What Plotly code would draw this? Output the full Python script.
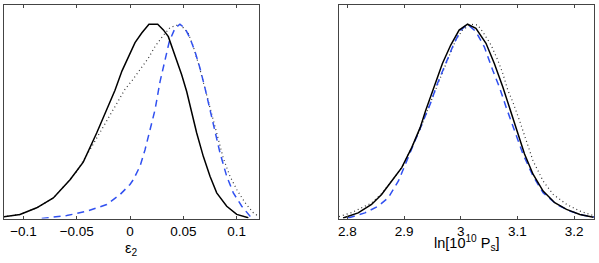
import plotly.graph_objects as go

# ---------------- Left panel: epsilon_2 ----------------
eps_solid_x = [-0.119, -0.1033, -0.0876, -0.0720, -0.0563, -0.0439, -0.0313, -0.0235, -0.0141,
               -0.0075, 0.0, 0.0047, 0.0110, 0.0178, 0.0260, 0.0313, 0.0360, 0.0423, 0.0485,
               0.0532, 0.0579, 0.0626, 0.0688, 0.0751, 0.0814, 0.0908, 0.1002, 0.1111]
eps_solid_y = [0.009, 0.021, 0.055, 0.106, 0.20, 0.29, 0.44, 0.54, 0.66,
               0.76, 0.855, 0.905, 0.955, 1.0, 1.0, 0.971, 0.936, 0.842, 0.74,
               0.654, 0.551, 0.44, 0.32, 0.217, 0.132, 0.063, 0.021, 0.004]

eps_dot_x = [-0.119, -0.1033, -0.0876, -0.072, -0.0563, -0.05, -0.0376, -0.0251, -0.0157,
             -0.0047, 0.0025, 0.0094, 0.0172, 0.0235, 0.0303, 0.0376, 0.0469, 0.0547,
             0.0594, 0.0641, 0.0688, 0.0735, 0.0782, 0.0826, 0.0876, 0.0939, 0.1002,
             0.108, 0.1158, 0.1211]
eps_dot_y = [0.009, 0.021, 0.055, 0.106, 0.20, 0.243, 0.354, 0.474, 0.56,
             0.665, 0.714, 0.765, 0.825, 0.885, 0.936, 0.983, 1.0, 0.954,
             0.885, 0.80, 0.705, 0.602, 0.51, 0.42, 0.31, 0.217, 0.149,
             0.081, 0.029, 0.01]

eps_dash_x = [-0.0829, -0.0594, -0.0407, -0.0219, -0.0094, 0.0, 0.0031, 0.0094, 0.0141,
              0.0188, 0.0235, 0.0282, 0.0329, 0.0369, 0.0423, 0.0469, 0.0516, 0.0563,
              0.061, 0.0657, 0.0704, 0.0751, 0.0798, 0.0845, 0.0908, 0.097, 0.1049,
              0.1127, 0.1174]
eps_dash_y = [0.0, 0.015, 0.037, 0.072, 0.123, 0.175, 0.2, 0.269, 0.354,
              0.457, 0.56, 0.705, 0.817, 0.911, 0.98, 1.0, 0.979, 0.928,
              0.859, 0.774, 0.671, 0.56, 0.457, 0.337, 0.217, 0.132, 0.063,
              0.012, 0.0]

eps_ticks = [-0.1, -0.05, 0, 0.05, 0.1]
eps_ticklabels = ["\u22120.1", "\u22120.05", "0", "0.05", "0.1"]

# ---------------- Right panel: ln[10^10 P_s] ----------------
ps_solid_x = [2.7922, 2.8188, 2.8424, 2.8602, 2.878, 2.8957, 2.9135, 2.9284, 2.9378,
              2.9526, 2.9675, 2.9822, 2.997, 3.0119, 3.0266, 3.0444, 3.0591, 3.0741,
              3.0858, 3.0977, 3.1124, 3.1274, 3.1452, 3.1657, 3.1865, 3.2101, 3.2339]
ps_solid_y = [0.003, 0.029, 0.072, 0.124, 0.193, 0.262, 0.366, 0.469, 0.555,
              0.677, 0.798, 0.893, 0.97, 1.0, 0.979, 0.902, 0.798, 0.677,
              0.57, 0.469, 0.332, 0.228, 0.141, 0.081, 0.047, 0.021, 0.007]

ps_dot_x = [2.785, 2.807, 2.8424, 2.8602, 2.878, 2.8957, 2.9135, 2.9284, 2.9467,
            2.9615, 2.9764, 2.9911, 3.003, 3.0178, 3.0297, 3.0385, 3.0533, 3.0652,
            3.0741, 3.083, 3.0918, 3.1036, 3.1155, 3.1274, 3.1452, 3.1629, 3.1865,
            3.2101, 3.2368]
ps_dot_y = [0.01, 0.03, 0.08, 0.128, 0.193, 0.262, 0.366, 0.46, 0.599,
            0.711, 0.815, 0.919, 0.97, 1.0, 0.996, 0.962, 0.893, 0.815,
            0.746, 0.66, 0.60, 0.504, 0.40, 0.297, 0.193, 0.124, 0.073,
            0.038, 0.012]

ps_dash_x = [2.801, 2.8307, 2.8544, 2.8721, 2.8899, 2.9046, 2.9195, 2.9343, 2.9462,
             2.9586, 2.9734, 2.9881, 3.0, 3.0119, 3.0266, 3.0414, 3.0563, 3.068,
             3.0799, 3.0947, 3.1096, 3.1274, 3.1452, 3.1687, 3.1924, 3.2162, 3.2368]
ps_dash_y = [0.003, 0.029, 0.064, 0.107, 0.193, 0.297, 0.40, 0.504, 0.591,
             0.694, 0.798, 0.902, 0.97, 1.0, 0.962, 0.884, 0.763, 0.677,
             0.573, 0.452, 0.332, 0.219, 0.133, 0.073, 0.038, 0.017, 0.007]

ps_ticks = [2.8, 2.9, 3.0, 3.1, 3.2]
ps_ticklabels = ["2.8", "2.9", "3", "3.1", "3.2"]

BLUE = "#3050f0"
W, H = 599, 263

fig = go.Figure()

def add_curves(xs, ys, xaxis, yaxis):
    (sx, dx, bx), (sy, dy, by) = xs, ys
    fig.add_trace(go.Scatter(x=dx, y=dy, mode="lines", xaxis=xaxis, yaxis=yaxis,
                             line=dict(color="#333333", width=1.2, dash="1px,3px"), showlegend=False))
    fig.add_trace(go.Scatter(x=bx, y=by, mode="lines", xaxis=xaxis, yaxis=yaxis,
                             line=dict(color=BLUE, width=1.5, dash="7px,5px"), showlegend=False))
    fig.add_trace(go.Scatter(x=sx, y=sy, mode="lines", xaxis=xaxis, yaxis=yaxis,
                             line=dict(color="black", width=1.5), showlegend=False))

add_curves((eps_solid_x, eps_dot_x, eps_dash_x), (eps_solid_y, eps_dot_y, eps_dash_y), "x", "y")
add_curves((ps_solid_x, ps_dot_x, ps_dash_x), (ps_solid_y, ps_dot_y, ps_dash_y), "x2", "y2")

font = dict(family="Liberation Sans, Arial, sans-serif", size=13.5, color="black")
title_font = dict(family="Liberation Sans, Arial, sans-serif", size=14.5, color="black")

common_x = dict(showgrid=False, zeroline=False, showline=True, linecolor="#444444", linewidth=1,
                mirror="ticks", ticks="inside", ticklen=3, tickcolor="#444444",
                tickfont=font, fixedrange=True)
common_y = dict(showgrid=False, zeroline=False, showline=True, linecolor="#444444", linewidth=1,
                mirror=True, ticks="", showticklabels=False, range=[0, 1.099], fixedrange=True)

yb, yt = 1 - 218.5 / H, 1 - 5 / H

fig.update_layout(
    width=W, height=H, margin=dict(l=0, r=0, t=0, b=0),
    paper_bgcolor="white", plot_bgcolor="white", font=font,
    xaxis=dict(common_x, domain=[4 / W, 259 / W], range=[-0.1183, 0.1211],
               tickvals=eps_ticks, ticktext=eps_ticklabels, anchor="y"),
    yaxis=dict(common_y, domain=[yb, yt], anchor="x"),
    xaxis2=dict(common_x, domain=[339 / W, 594 / W], range=[2.785, 3.235],
                tickvals=ps_ticks, ticktext=ps_ticklabels, anchor="y2"),
    yaxis2=dict(common_y, domain=[yb, yt], anchor="x2"),
    annotations=[
        dict(text="\u03b5<sub>2</sub>", x=131 / W, y=1 - 249 / H, xref="paper", yref="paper",
             showarrow=False, font=title_font, xanchor="center", yanchor="middle"),
        dict(text="ln[10<sup>10</sup> P<sub>s</sub>]", x=467 / W, y=1 - 243 / H,
             xref="paper", yref="paper", showarrow=False, font=title_font,
             xanchor="center", yanchor="middle"),
    ],
)

fig.write_html("out.html", config={"displayModeBar": False},
               post_script="document.body.style.margin='0';document.body.style.overflow='hidden';")
